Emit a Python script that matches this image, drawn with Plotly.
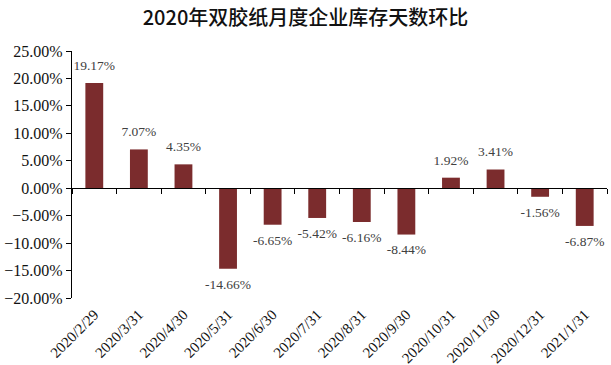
import plotly.graph_objects as go

# Monthly month-over-month change in enterprise inventory days (%)
dates = ["2020/2/29", "2020/3/31", "2020/4/30", "2020/5/31", "2020/6/30", "2020/7/31",
         "2020/8/31", "2020/9/30", "2020/10/31", "2020/11/30", "2020/12/31", "2021/1/31"]
changes = [19.17, 7.07, 4.35, -14.66, -6.65, -5.42, -6.16, -8.44, 1.92, 3.41, -1.56, -6.87]

y_min, y_max = -20, 25
serif = "Liberation Serif"
x_range = [-0.5, len(dates) - 0.5]

fig = go.Figure()
fig.add_trace(go.Bar(
    x=dates, y=changes,
    marker=dict(color="#7b2c2d", line=dict(width=0)),
    hoverinfo="skip",
))
# value labels sit just beyond each bar end (above positive, below negative)
fig.add_trace(go.Scatter(
    x=dates, y=changes, mode="markers+text",
    marker=dict(size=14, opacity=0),
    text=[f"{v:.2f}%" for v in changes],
    textposition=["top center" if v >= 0 else "bottom center" for v in changes],
    textfont=dict(family=serif, size=13.5, color="#404040"),
    cliponaxis=False, hoverinfo="skip",
))
# invisible trace that carries the category axis drawn along the zero line
fig.add_trace(go.Scatter(x=dates, y=[0] * len(dates), xaxis="x2", mode="markers",
                         marker=dict(opacity=0), hoverinfo="skip", showlegend=False))

fig.update_layout(
    width=611, height=365,
    margin=dict(l=72, r=4, t=51, b=67, autoexpand=False),
    paper_bgcolor="white", plot_bgcolor="white",
    showlegend=False,
    bargap=0.6,
    font=dict(family=serif),
    title=dict(text="2020年双胶纸月度企业库存天数环比", x=0.5, xanchor="center",
               y=0.95, yanchor="middle",
               font=dict(family="Noto Sans CJK SC", size=20, color="#111111", weight=500)),
    xaxis=dict(
        type="category", range=x_range, showline=False, showgrid=False, zeroline=False,
        ticks="", tickangle=-45, automargin=False, ticklabelstandoff=4,
        tickfont=dict(family=serif, size=15, color="#111111"),
    ),
    xaxis2=dict(
        type="category", range=x_range, overlaying="x", anchor="free",
        position=(0 - y_min) / (y_max - y_min), automargin=False,
        showline=True, linecolor="#000000", linewidth=1.2,
        ticks="outside", ticklen=5, tickcolor="#000000", tickwidth=1,
        tickson="boundaries", showticklabels=False, showgrid=False,
    ),
    yaxis=dict(
        range=[y_min, y_max], dtick=5, tickformat=".2f", ticksuffix="%",
        showline=True, linecolor="#000000", linewidth=1.2, automargin=False,
        ticks="outside", ticklen=5, tickcolor="#000000",
        showgrid=False, zeroline=False,
        tickfont=dict(family=serif, size=16, color="#111111"),
    ),
)

fig.write_html("out.html")
